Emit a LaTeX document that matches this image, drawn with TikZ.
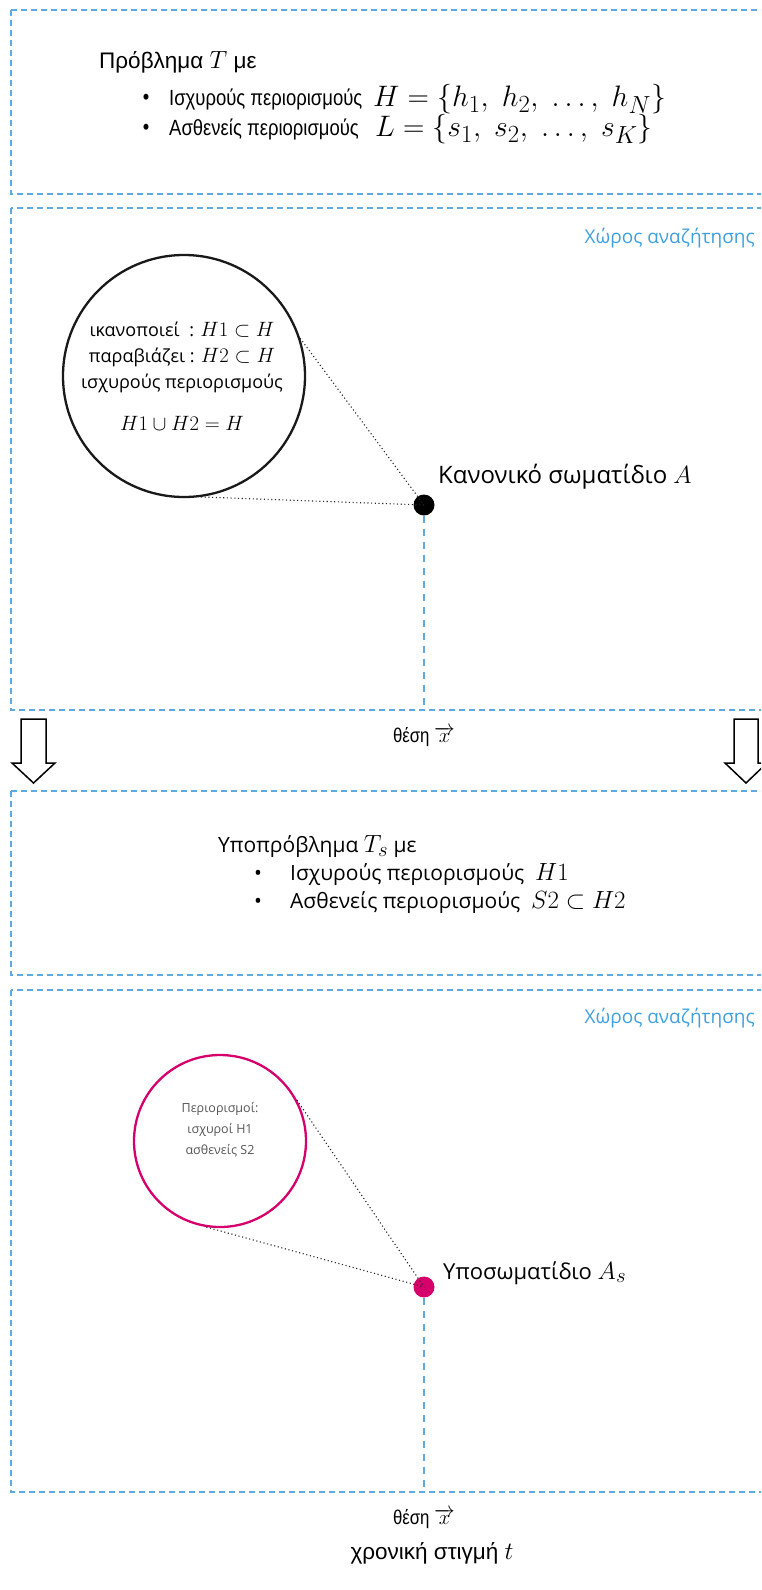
\documentclass[tikz,border=0pt]{standalone}
\usepackage{fontspec}
\setmainfont{Liberation Sans}
\newfontfamily\narrowsans{Liberation Sans}[FakeStretch=0.84]
\newfontfamily\humsans{Open Sans}
\usetikzlibrary{calc}
\definecolor{boxblue}{RGB}{96,170,226}
\definecolor{labelblue}{RGB}{64,160,222}
\definecolor{particlepink}{RGB}{214,0,108}
\definecolor{notegray}{RGB}{85,85,85}

\begin{document}
\begin{tikzpicture}[x=1pt,y=-1pt,
  region/.style={draw=boxblue, line width=1.3pt, dash pattern=on 6pt off 4pt},
  axisline/.style={draw=boxblue, line width=1.2pt, dash pattern=on 7pt off 6pt},
  zoomline/.style={draw=black!85, line width=1.1pt, dash pattern=on 1.1pt off 2.6pt},
  downarrow/.style={draw=black, fill=white, line width=1.5pt, line join=miter},
  titletxt/.style={font=\fontsize{22.5}{26}\selectfont, inner sep=0pt},
  itemtxt/.style={font=\narrowsans\fontsize{22}{26}\selectfont, inner sep=0pt},
  smalltxt/.style={font=\narrowsans\fontsize{20}{24}\selectfont, inner sep=0pt},
  humtxt/.style={font=\humsans\fontsize{21}{25}\selectfont, inner sep=0pt},
  spacelabel/.style={font=\humsans\fontsize{19}{22}\selectfont, text=labelblue, inner sep=0pt, anchor=east},
  particle/.style={circle, inner sep=0pt, minimum size=21pt},
  bigmath/.style={font=\fontsize{24.88}{30}\selectfont, inner sep=0pt, anchor=west}
]
\useasboundingbox (0,0) rectangle (761,1590);

\begin{scope}
\clip (0,0) rectangle (761,1590);
% dashed regions (open on the right, running past the page edge)
\draw[region] (11,10) rectangle (790,194);
\draw[region] (11,208) rectangle (790,710);
\draw[region] (11,791) rectangle (790,975);
\draw[region] (11,990) rectangle (790,1492);

% hollow down arrows between the two halves
\draw[downarrow] (21,719) -- (46,719) -- (46,763) -- (55,763) -- (33.5,783)
  -- (12,763) -- (21,763) -- cycle;
\draw[downarrow] (734,719) -- (758,719) -- (758,763) -- (767,763) -- (746,783)
  -- (725,763) -- (734,763) -- cycle;
\end{scope}

% ---------- problem T ----------
\node[titletxt, anchor=west] (probT) at (99,62) {Πρόβλημα {\fontsize{24.88}{26}\selectfont$T$} με};
\node[itemtxt] (bulA) at (146,99) {•};
\node[itemtxt, anchor=west] (hardA) at (169,99) {Ισχυρούς περιορισμούς};
\node[bigmath] (hardsetA) at (373,99) {\scalebox{1.19}{$H=\{h_1,\;h_2,\;\ldots,\;h_N\}$}};
\node[itemtxt] (bulB) at (146,129) {•};
\node[itemtxt, anchor=west] (softA) at (169,129) {Ασθενείς περιορισμούς};
\node[bigmath] (softsetA) at (375,129) {\scalebox{1.19}{$L=\{s_1,\;s_2,\;\ldots,\;s_K\}$}};

% ---------- search space of the regular particle ----------
\node[spacelabel] (spaceA) at (755,238) {Χώρος αναζήτησης};

\node[circle, draw=black!90, line width=2.3pt, minimum size=242pt, inner sep=0pt] (zoomA) at (184,376) {};
\node[font=\humsans\fontsize{18}{26}\selectfont, align=center, inner sep=0pt] (zoomAtxt) at (182,376)
  {ικανοποιεί \;: {\fontsize{20.74}{26}\selectfont$H1\subset H$}\\
   παραβιάζει : {\fontsize{20.74}{26}\selectfont$H2\subset H$}\\
   ισχυρούς περιορισμούς\\[16pt]
   {\fontsize{20.74}{26}\selectfont$H1\cup H2=H$}};

\node[particle, fill=black] (partA) at (424,505) {};
\node[font=\humsans\fontsize{24}{28}\selectfont, inner sep=0pt, anchor=west] (labA) at (438,477) {Κανονικό σωματίδιο\ {\fontsize{24.88}{28}\selectfont$A$}};
\draw[zoomline] (zoomA.18) -- (partA.center);
\draw[zoomline] (zoomA.-82) -- (partA.center);

\coordinate (axA) at (424,710);
\draw[axisline] (partA.south) -- (axA);
\node[smalltxt] (posA) at (424,737) {θέση $\overrightarrow{x}$};

% ---------- sub-problem T_s ----------
\node[humtxt, anchor=west] (probTs) at (218,847) {Υποπρόβλημα {\fontsize{24.88}{25}\selectfont$T_s$} με};
\node[humtxt] (bulC) at (258,875) {•};
\node[humtxt, anchor=west] (hardB) at (290,875) {Ισχυρούς περιορισμούς \ {\fontsize{24}{25}\selectfont$H1$}};
\node[humtxt] (bulD) at (258,903) {•};
\node[humtxt, anchor=west] (softB) at (290,903) {Ασθενείς περιορισμούς \ {\fontsize{24}{25}\selectfont$S2\subset H2$}};

% ---------- search space of the sub-particle ----------
\node[spacelabel] (spaceB) at (755,1018) {Χώρος αναζήτησης};

\node[circle, draw=particlepink, line width=2.3pt, minimum size=172pt, inner sep=0pt] (zoomB) at (220,1141) {};
\node[font=\humsans\fontsize{12.5}{21}\selectfont, text=notegray, align=center, inner sep=0pt] (zoomBtxt) at (220,1130)
  {Περιορισμοί:\\ισχυροί H1\\ασθενείς S2};

\node[particle, fill=particlepink] (partB) at (424,1287) {};
\node[font=\humsans\fontsize{22}{26}\selectfont, inner sep=0pt, anchor=west] (labB) at (443,1273) {Υποσωματίδιο {\fontsize{24.88}{27}\selectfont$A_s$}};
\draw[zoomline] (zoomB.28) -- (partB.center);
\draw[zoomline] (zoomB.-99) -- (partB.center);

\coordinate (axB) at (424,1492);
\draw[axisline] (partB.south) -- (axB);
\node[smalltxt] (posB) at (424,1519) {θέση $\overrightarrow{x}$};

\node[titletxt] (timeT) at (432,1553) {χρονική στιγμή {\fontsize{24.88}{26}\selectfont$t$}};
\end{tikzpicture}
\end{document}
